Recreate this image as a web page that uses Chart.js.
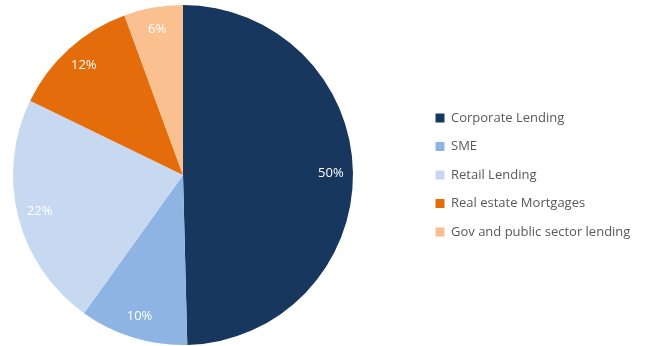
<!DOCTYPE html>
<html>
<head>
<meta charset="utf-8">
<script src="https://cdn.jsdelivr.net/npm/chart.js@4"></script>
<style>
  html, body { margin: 0; padding: 0; background: #fff; }
  #wrap { width: 647px; height: 346px; position: relative; }
</style>
</head>
<body>
<div id="wrap"><canvas id="myChart"></canvas></div>
<script>
// data
const categories = ['Corporate Lending', 'SME', 'Retail Lending', 'Real estate Mortgages', 'Gov and public sector lending'];
const shares = [49.6, 10.3, 22.3, 12.2, 5.6];
const colors = ['#17375e', '#8db4e2', '#c6d9f1', '#e46c0a', '#fac090'];

const FONT = '"Open Sans", "Noto Sans", sans-serif';

// pie on the left, legend block starting at x=420
const placeBoxes = {
    id: 'placeBoxes',
    afterLayout(chart) {
        const a = chart.chartArea;
        a.left = 13;
        a.right = 353;
        a.width = a.right - a.left;
        const lg = chart.legend;
        lg.left = 420;
        lg.right = 646;
        lg.width = lg.right - lg.left;
    }
};

// percentage labels inside the slices
const pctLabels = {
    id: 'pctLabels',
    afterDatasetsDraw(chart) {
        const ctx = chart.ctx;
        const meta = chart.getDatasetMeta(0);
        const total = shares.reduce((a, b) => a + b, 0);
        ctx.save();
        ctx.font = '13px ' + FONT;
        ctx.fillStyle = '#ffffff';
        ctx.textAlign = 'center';
        ctx.textBaseline = 'middle';
        meta.data.forEach((arc, i) => {
            const p = arc.getProps(['x', 'y', 'startAngle', 'endAngle', 'outerRadius'], true);
            const mid = (p.startAngle + p.endAngle) / 2;
            const r = p.outerRadius * 0.87;
            const pct = Math.round(shares[i] / total * 100) + '%';
            ctx.fillText(pct, p.x + Math.cos(mid) * r, p.y + Math.sin(mid) * r);
        });
        ctx.restore();
    }
};

const ctx = document.getElementById('myChart').getContext('2d');
const myChart = new Chart(ctx, {
    type: 'pie',
    data: {
        labels: categories,
        datasets: [{
            data: shares,
            backgroundColor: colors,
            borderWidth: 0,
        }]
    },
    options: {
        responsive: true,
        maintainAspectRatio: false,
        animation: false,
        layout: {
            padding: { left: 0, right: 0, top: 5, bottom: 1 }
        },
        plugins: {
            tooltip: { enabled: false },
            legend: {
                position: 'right',
                labels: {
                    boxWidth: 9,
                    boxHeight: 9,
                    padding: 15.5,
                    color: '#595959',
                    font: { family: FONT, size: 13 }
                }
            }
        }
    },
    plugins: [placeBoxes, pctLabels]
});
</script>
</body>
</html>
